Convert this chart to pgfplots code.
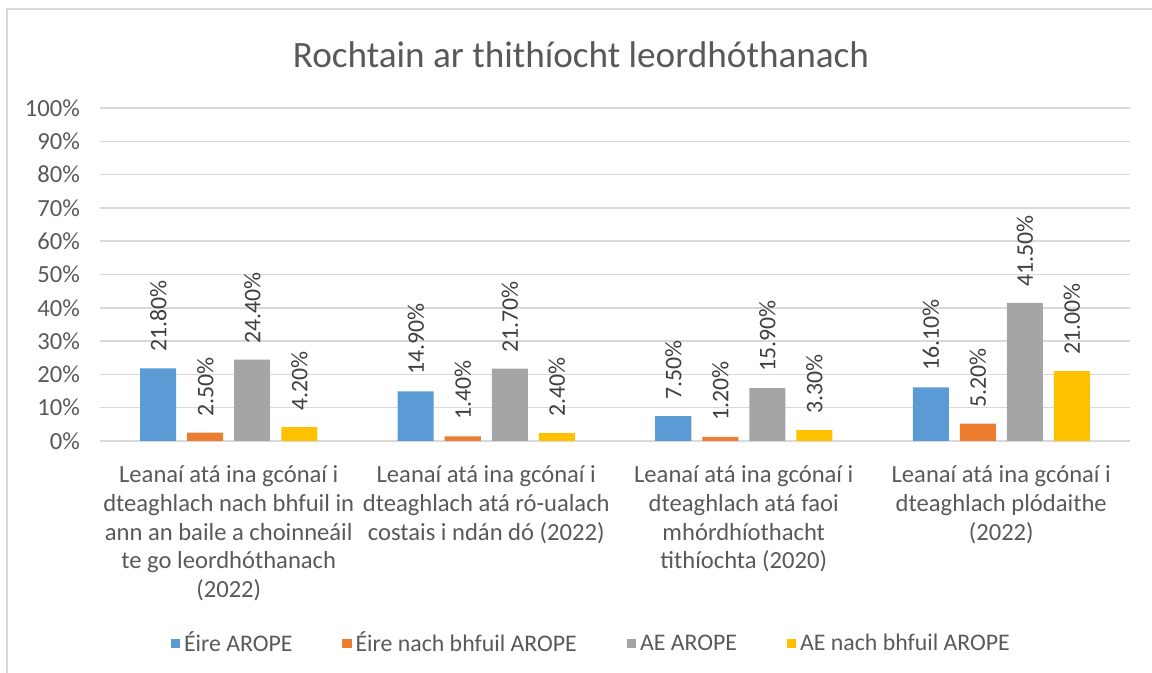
\documentclass[border=0pt]{standalone}
\usepackage{pgfplots}
\pgfplotsset{compat=1.18}
\usepackage{fontspec}
\setmainfont{Carlito}
\definecolor{cblue}{HTML}{5B9BD5}
\definecolor{corange}{HTML}{ED7D31}
\definecolor{cgray}{HTML}{A5A5A5}
\definecolor{cgold}{HTML}{FFC000}
\definecolor{gridc}{HTML}{D9D9D9}
\definecolor{txt}{HTML}{595959}
\definecolor{lbl}{HTML}{404040}
\begin{document}
\begin{tikzpicture}
\useasboundingbox (0,0) rectangle (576pt,336.5pt);
\draw[color=gridc, line width=0.75pt] (3.5pt,-10pt) rectangle (600pt,332pt);
\node[font=\fontsize{18.6}{22}\selectfont, color=txt] at (290.5pt,309pt) {Rochtain ar thithíocht leordhóthanach};
\begin{axis}[
  at={(50pt,116pt)}, anchor=south west,
  scale only axis, width=515pt, height=166.5pt,
  ybar=5.5pt, bar width=18pt,
  xmin=-0.5, xmax=3.5, ymin=0, ymax=100,
  xtick={0,1,2,3},
  xticklabels={
    {Leanaí atá ina gcónaí i\\dteaghlach nach bhfuil in\\ann an baile a choinneáil\\te go leordhóthanach\\(2022)},
    {Leanaí atá ina gcónaí i\\dteaghlach atá ró-ualach\\costais i ndán dó (2022)},
    {Leanaí atá ina gcónaí i\\dteaghlach atá faoi\\mhórdhíothacht\\tithíochta (2020)},
    {Leanaí atá ina gcónaí i\\dteaghlach plódaithe\\(2022)}},
  ytick={0,10,...,100},
  yticklabel={\pgfmathprintnumber{\tick}\%},
  /pgf/number format/assume math mode=true,
  ymajorgrids, grid style={color=gridc, line width=0.75pt},
  axis x line*=bottom, axis y line*=left,
  x axis line style={color=gridc, line width=0.75pt, -},
  y axis line style={draw=none},
  major tick length=0pt,
  tick label style={font=\fontsize{12.3}{14.3}\selectfont, color=txt},
  xticklabel style={align=center, yshift=-9pt},
  yticklabel style={xshift=-6.5pt},
  nodes near coords={\pgfmathprintnumber[fixed,fixed zerofill,precision=2]{\pgfplotspointmeta}\%},
  every node near coord/.append style={rotate=90, anchor=west, inner xsep=8pt, inner ysep=0pt, font=\fontsize{11.9}{13}\selectfont, color=lbl},
  legend columns=4,
  legend style={at={(0.478,-0.607)}, anchor=center, draw=none, font=\fontsize{11.9}{13}\selectfont, text=txt,
    /tikz/every even column/.append style={column sep=23pt}},
  legend image code/.code={\fill[#1] (0pt,-2.3pt) rectangle (4.6pt,2.3pt);},
]
\addplot[fill=cblue, draw=none] coordinates {(0,21.8) (1,14.9) (2,7.5) (3,16.1)};
\addplot[fill=corange, draw=none] coordinates {(0,2.5) (1,1.4) (2,1.2) (3,5.2)};
\addplot[fill=cgray, draw=none] coordinates {(0,24.4) (1,21.7) (2,15.9) (3,41.5)};
\addplot[fill=cgold, draw=none] coordinates {(0,4.2) (1,2.4) (2,3.3) (3,21.0)};
\legend{\strut Éire AROPE, \strut Éire nach bhfuil AROPE, \strut AE AROPE, \strut AE nach bhfuil AROPE}
\end{axis}
\end{tikzpicture}
\end{document}
